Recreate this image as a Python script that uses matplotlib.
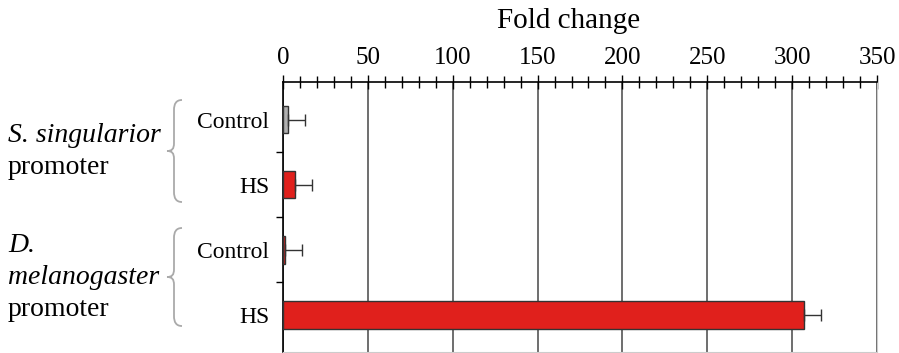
import matplotlib.pyplot as plt
from matplotlib.ticker import MultipleLocator
from matplotlib.path import Path
from matplotlib.patches import PathPatch

# datos
etiquetas = ["Control", "HS", "Control", "HS"]
valores = [3, 7, 1, 307]
errores = [10, 10, 10, 10]
colores = ["#b0b0b0", "#e0201c", "#e0201c", "#e0201c"]
grupos = [["S. singularior", "promoter"], ["D.", "melanogaster", "promoter"]]
ticks_x = [0, 50, 100, 150, 200, 250, 300, 350]

plt.rcParams["font.family"] = ["Liberation Serif", "DejaVu Serif"]

W, H = 899, 353
fig = plt.figure(figsize=(W / 100, H / 100), dpi=100)
ax = fig.add_axes([283 / W, 1 / H, (877 - 283) / W, (352 - 82) / H])

pos = list(range(len(valores)))
ax.barh(pos, valores, height=0.42, color=colores, edgecolor="#333333", linewidth=1.0,
        xerr=[[0] * len(errores), errores],
        error_kw=dict(ecolor="#333333", elinewidth=1.0, capsize=4, capthick=1.0),
        zorder=3)

ax.set_xlim(0, 350)
ax.set_ylim(3.57, -0.58)

ax.xaxis.tick_top()
ax.xaxis.set_label_position("top")
ax.set_xticks(ticks_x)
ax.xaxis.set_minor_locator(MultipleLocator(10))
ax.tick_params(axis="x", which="major", direction="inout", length=10, width=1, labelsize=18, pad=4)
ax.tick_params(axis="x", which="minor", direction="inout", length=8, width=1)
ax.set_xlabel("Fold change", fontsize=21, labelpad=14, x=0.48)
ax.grid(axis="x", which="major", color="#555555", linewidth=1.2, zorder=0)

ax.set_yticks(pos)
ax.set_yticklabels(etiquetas, fontsize=17)
ax.tick_params(axis="y", which="major", length=0, pad=10)
ax.set_yticks([0.5, 1.5, 2.5], minor=True)
ax.tick_params(axis="y", which="minor", direction="out", length=5, width=1)

ax.spines["top"].set_linewidth(1.2)
ax.spines["left"].set_linewidth(1.2)
ax.spines["right"].set_color("#cccccc")
ax.spines["bottom"].set_color("#cccccc")

# etiquetas de los grupos
def px(x, y):
    return (x / W, 1 - y / H)

fig.text(*px(8, 136), grupos[0][0], fontsize=20, style="italic", va="center")
fig.text(*px(8, 168), grupos[0][1], fontsize=20, va="center")
fig.text(*px(8, 245), grupos[1][0], fontsize=20, style="italic", va="center")
fig.text(*px(8, 278), grupos[1][1], fontsize=20, style="italic", va="center")
fig.text(*px(8, 309), grupos[1][2], fontsize=20, va="center")

# llaves
def llave(top, bot):
    mid = (top + bot) / 2
    pts = [(182, top), (176, top), (174, top + 4), (174, top + 10),
           (174, mid - 8), (174, mid - 2), (172, mid), (167, mid),
           (172, mid), (174, mid + 2), (174, mid + 8),
           (174, bot - 10), (174, bot - 4), (176, bot), (182, bot)]
    codes = [Path.MOVETO, Path.CURVE4, Path.CURVE4, Path.CURVE4,
             Path.LINETO, Path.CURVE4, Path.CURVE4, Path.CURVE4,
             Path.CURVE4, Path.CURVE4, Path.CURVE4,
             Path.LINETO, Path.CURVE4, Path.CURVE4, Path.CURVE4]
    path = Path([px(x, y) for x, y in pts], codes)
    fig.add_artist(PathPatch(path, facecolor="none", edgecolor="#aaaaaa", linewidth=1.3,
                             transform=fig.transFigure))

llave(100, 202)
llave(228, 326)

fig.savefig("out.png", dpi=100)
